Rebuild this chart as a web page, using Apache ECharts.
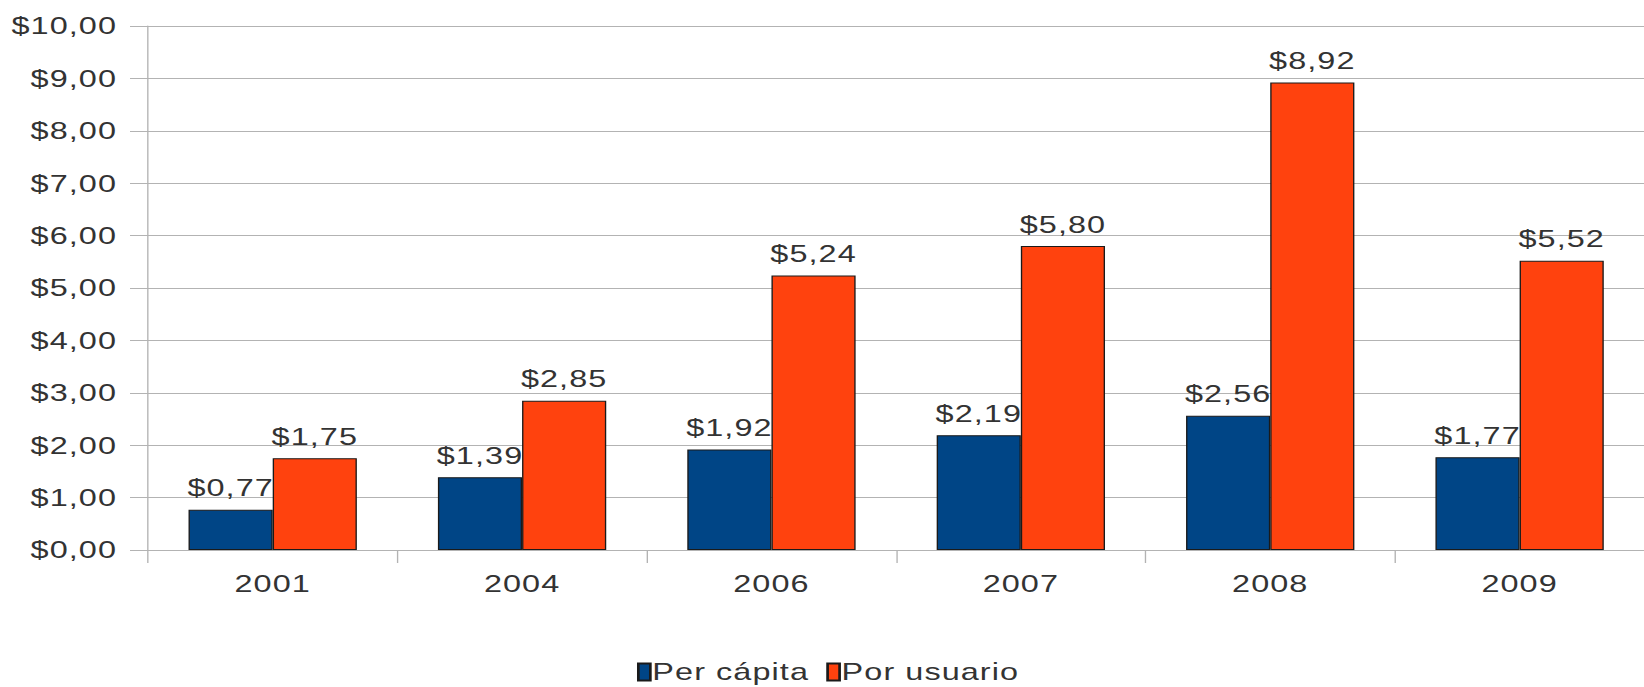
<!DOCTYPE html>
<html>
<head>
<meta charset="utf-8">
<script src="https://cdn.jsdelivr.net/npm/echarts@6/dist/echarts.min.js"></script>
<style>
html,body{margin:0;padding:0;background:#fff;overflow:hidden;}
#wrap{width:1644px;height:687px;overflow:hidden;}
/* the reference's rendering is horizontally stretched; draw narrower and stretch */
#chart{width:1218px;height:687px;transform:scaleX(1.35);transform-origin:0 0;}
#chart svg text{letter-spacing:0.8px;}
</style>
</head>
<body>
<div id="wrap"><div id="chart"></div></div>
<script>
const categories = ['2001', '2004', '2006', '2007', '2008', '2009'];
const perCapita = [0.77, 1.39, 1.92, 2.19, 2.56, 1.77];
const porUsuario = [1.75, 2.85, 5.24, 5.80, 8.92, 5.52];
const seriesNames = ['Per cápita', 'Por usuario'];

const money = v => '$' + Number(v).toFixed(2).replace('.', ',');
const FONT = 'Liberation Sans';
const TXT = '#333333';
const GRID = '#b3b3b3';
const SX = 1.35;

const chart = echarts.init(document.getElementById('chart'), null, {renderer: 'svg'});
chart.setOption({
  animation: false,
  backgroundColor: '#ffffff',
  textStyle: {fontFamily: FONT},
  grid: {left: 148 / SX, right: 0, top: 26, bottom: 137, containLabel: false},
  legend: {
    data: seriesNames,
    left: 'center',
    top: 655,
    itemWidth: 12 / SX,
    itemHeight: 17,
    itemGap: 28 / SX,
    icon: 'rect',
    textStyle: {fontFamily: FONT, fontSize: 24, color: TXT, padding: [0,0,0,-3.5]}
  },
  xAxis: {
    type: 'category',
    data: categories,
    axisLine: {show: true, lineStyle: {color: GRID, width: 1}},
    axisTick: {show: true, length: 13, lineStyle: {color: GRID}},
    axisLabel: {fontFamily: FONT, fontSize: 24, color: TXT, margin: 22}
  },
  yAxis: {
    type: 'value',
    min: 0, max: 10, interval: 1,
    axisLine: {show: true, lineStyle: {color: GRID, width: 1}},
    axisTick: {show: true, length: 18 / SX, lineStyle: {color: GRID}},
    splitLine: {show: true, lineStyle: {color: GRID, width: 1}},
    axisLabel: {fontFamily: FONT, fontSize: 24, color: TXT, margin: 31 / SX, formatter: money}
  },
  series: [
    {
      name: seriesNames[0], type: 'bar', data: perCapita,
      barGap: '0%', barCategoryGap: '32.5%',
      itemStyle: {color: '#004586', borderColor: '#1a1a1a', borderWidth: 1},
      label: {show: true, position: 'top', distance: 10, fontFamily: FONT, fontSize: 24, color: TXT, formatter: p => money(p.value)}
    },
    {
      name: seriesNames[1], type: 'bar', data: porUsuario,
      barGap: '0%', barCategoryGap: '32.5%',
      itemStyle: {color: '#ff420e', borderColor: '#1a1a1a', borderWidth: 1},
      label: {show: true, position: 'top', distance: 10, fontFamily: FONT, fontSize: 24, color: TXT, formatter: p => money(p.value)}
    }
  ]
});
</script>
</body>
</html>
